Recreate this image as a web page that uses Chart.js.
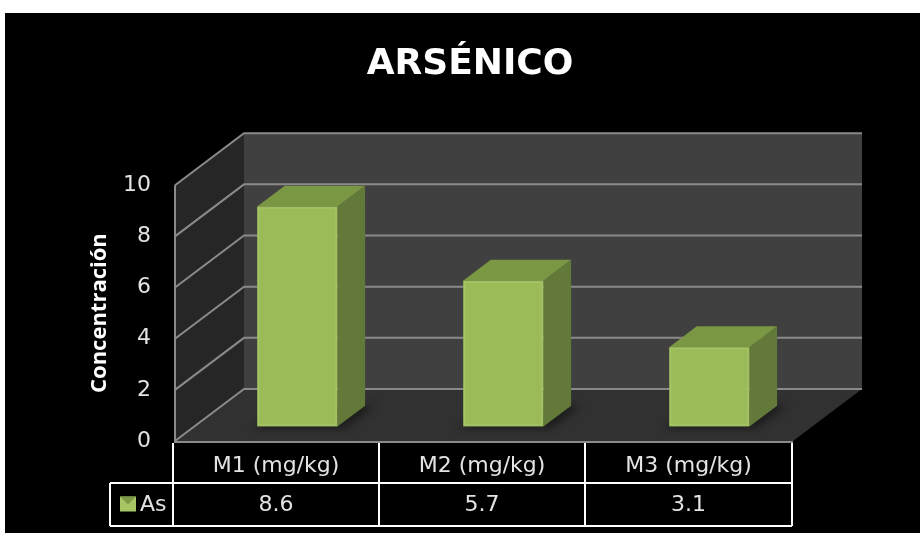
<!DOCTYPE html>
<html>
<head>
<meta charset="utf-8">
<script src="https://cdn.jsdelivr.net/npm/chart.js@4/dist/chart.umd.min.js"></script>
<style>
  html, body { margin: 0; background: #fff; }
  #wrap { position: absolute; left: 5px; top: 13px; width: 915px; height: 520px; background: #000; }
</style>
</head>
<body>
<div id="wrap"><canvas id="arsenicoChart"></canvas></div>
<script>
// data
const categories = ['M1 (mg/kg)', 'M2 (mg/kg)', 'M3 (mg/kg)'];
const seriesName = 'As';
const asValues = [8.6, 5.7, 3.1];
const yTicks = [0, 2, 4, 6, 8, 10];

// fake 3d depth of the plot box (pixels)
const DEPTH_X = 69;
const DEPTH_Y = 52;
const textColor = '#e3e3e3';

const wallsPlugin = {
  id: 'walls',
  beforeDatasetsDraw(chart) {
    const { ctx, chartArea } = chart;
    const y = chart.scales.y;
    const L = chartArea.left, R = chartArea.right;
    const T = y.getPixelForValue(y.max), B = y.getPixelForValue(y.min);
    const dx = DEPTH_X, dy = DEPTH_Y;
    ctx.save();
    // back wall
    ctx.fillStyle = '#404040';
    ctx.fillRect(L + dx, T - dy, R - L, B - T);
    // left wall
    ctx.fillStyle = '#262626';
    ctx.beginPath();
    ctx.moveTo(L, T); ctx.lineTo(L + dx, T - dy); ctx.lineTo(L + dx, B - dy); ctx.lineTo(L, B);
    ctx.closePath(); ctx.fill();
    // floor
    ctx.fillStyle = '#313131';
    ctx.beginPath();
    ctx.moveTo(L, B); ctx.lineTo(R, B); ctx.lineTo(R + dx, B - dy); ctx.lineTo(L + dx, B - dy);
    ctx.closePath(); ctx.fill();

    // gridlines on the left and back wall
    ctx.strokeStyle = '#8a8a8a';
    ctx.lineWidth = 2;
    y.ticks.forEach(t => {
      const py = y.getPixelForValue(t.value);
      ctx.beginPath();
      ctx.moveTo(L, py); ctx.lineTo(L + dx, py - dy); ctx.lineTo(R + dx, py - dy);
      ctx.stroke();
    });
    // front edges
    ctx.beginPath();
    ctx.moveTo(L, T); ctx.lineTo(L, B + 1); ctx.lineTo(R, B + 1);
    ctx.stroke();
    ctx.restore();
  }
};

const bars3dPlugin = {
  id: 'bars3d',
  afterDatasetsDraw(chart) {
    const { ctx } = chart;
    const meta = chart.getDatasetMeta(0);
    const f0 = 0.28, f1 = 0.68;
    const ddx = (f1 - f0) * DEPTH_X, ddy = (f1 - f0) * DEPTH_Y;
    ctx.save();
    meta.data.forEach(el => {
      const w = el.width;
      const x0 = el.x - w / 2 + f0 * DEPTH_X, x1 = x0 + w;
      const yTop = el.y - f0 * DEPTH_Y, yBot = el.base - f0 * DEPTH_Y;
      // soft shadow on the floor
      ctx.save();
      ctx.fillStyle = 'rgba(0,0,0,0.45)';
      ctx.filter = 'blur(4px)';
      ctx.beginPath();
      ctx.moveTo(x0 - 4, yBot + 2); ctx.lineTo(x1 + 6, yBot + 2);
      ctx.lineTo(x1 + ddx + 10, yBot - ddy); ctx.lineTo(x0 + ddx, yBot - ddy);
      ctx.closePath(); ctx.fill();
      ctx.restore();
      // side face
      ctx.fillStyle = '#62793a';
      ctx.beginPath();
      ctx.moveTo(x1, yTop); ctx.lineTo(x1 + ddx, yTop - ddy); ctx.lineTo(x1 + ddx, yBot - ddy); ctx.lineTo(x1, yBot);
      ctx.closePath(); ctx.fill();
      // top face
      ctx.fillStyle = '#7a9744';
      ctx.beginPath();
      ctx.moveTo(x0, yTop); ctx.lineTo(x0 + ddx, yTop - ddy); ctx.lineTo(x1 + ddx, yTop - ddy); ctx.lineTo(x1, yTop);
      ctx.closePath(); ctx.fill();
      // front face
      ctx.fillStyle = '#9bbb59';
      ctx.fillRect(x0, yTop, w, yBot - yTop);
      ctx.strokeStyle = 'rgba(190,215,130,0.45)';
      ctx.lineWidth = 1;
      ctx.strokeRect(x0 + 1.5, yTop + 1.5, w - 3, yBot - yTop - 3);
    });
    ctx.restore();
  }
};

const dataTablePlugin = {
  id: 'dataTable',
  afterDraw(chart) {
    const { ctx } = chart;
    const x = chart.scales.x, y = chart.scales.y;
    const B = y.getPixelForValue(y.min);
    const top = B + 2, mid = top + 40, bottom = mid + 43;
    const edges = [];
    for (let i = 0; i <= categories.length; i++) edges.push(Math.round(x.getPixelForValue(i - 0.5)) - 2);
    edges[edges.length - 1] += 1;
    const legendLeft = edges[0] - 63;
    ctx.save();
    ctx.strokeStyle = '#ffffff';
    ctx.lineWidth = 2;
    ctx.beginPath();
    edges.forEach(ex => { ctx.moveTo(ex, top); ctx.lineTo(ex, bottom); });
    ctx.moveTo(legendLeft, mid); ctx.lineTo(edges[edges.length - 1], mid);
    ctx.moveTo(legendLeft, bottom); ctx.lineTo(edges[edges.length - 1], bottom);
    ctx.moveTo(legendLeft, mid); ctx.lineTo(legendLeft, bottom);
    ctx.stroke();

    ctx.fillStyle = textColor;
    ctx.font = '22px "DejaVu Sans"';
    ctx.textAlign = 'center';
    ctx.textBaseline = 'middle';
    categories.forEach((c, i) => {
      const cx = (edges[i] + edges[i + 1]) / 2;
      ctx.fillText(c, cx, (top + mid) / 2 + 3);
      ctx.fillText(String(asValues[i]), cx, (mid + bottom) / 2 + 1);
    });

    // legend key
    const kx = legendLeft + 10, ky = (mid + bottom) / 2 - 8;
    ctx.fillStyle = '#a6c663';
    ctx.fillRect(kx, ky, 16, 15);
    ctx.fillStyle = '#7f9b47';
    ctx.beginPath();
    ctx.moveTo(kx, ky); ctx.lineTo(kx + 16, ky); ctx.lineTo(kx + 8, ky + 8);
    ctx.closePath(); ctx.fill();
    ctx.fillStyle = textColor;
    ctx.textAlign = 'left';
    ctx.fillText(seriesName, kx + 20, (mid + bottom) / 2 + 1);
    ctx.restore();
  }
};

new Chart(document.getElementById('arsenicoChart'), {
  type: 'bar',
  data: {
    labels: categories,
    datasets: [{
      label: seriesName,
      data: asValues,
      backgroundColor: 'rgba(0,0,0,0)',
      borderWidth: 0,
      barPercentage: 0.39,
      categoryPercentage: 1
    }]
  },
  options: {
    responsive: true,
    maintainAspectRatio: false,
    animation: false,
    layout: { padding: { left: 15, right: 0, top: 0, bottom: 92 } },
    plugins: {
      legend: { display: false },
      tooltip: { enabled: false },
      title: {
        display: true,
        text: 'ARSÉNICO',
        color: '#ffffff',
        font: { family: 'DejaVu Sans', weight: 'bold', size: 36 },
        padding: { top: 30, bottom: 99 }
      }
    },
    scales: {
      x: { display: false },
      y: {
        min: yTicks[0],
        max: yTicks[yTicks.length - 1],
        ticks: {
          stepSize: yTicks[1] - yTicks[0],
          padding: 24,
          color: textColor,
          font: { family: 'DejaVu Sans', size: 22 }
        },
        grid: { display: false, drawTicks: false },
        border: { display: false },
        title: {
          display: true,
          text: 'Concentración',
          color: '#ffffff',
          font: { family: 'Open Sans', weight: 'bold', size: 22 },
          padding: { top: 67, bottom: 0 }
        },
        afterFit: s => { s.width = 155; }
      },
      // empty right-hand strip so the plot box and title sit where they do in the original
      yRight: {
        position: 'right',
        ticks: { display: false },
        grid: { display: false, drawTicks: false },
        border: { display: false },
        afterFit: s => { s.width = 127; }
      }
    }
  },
  plugins: [wallsPlugin, bars3dPlugin, dataTablePlugin]
});
</script>
</body>
</html>
